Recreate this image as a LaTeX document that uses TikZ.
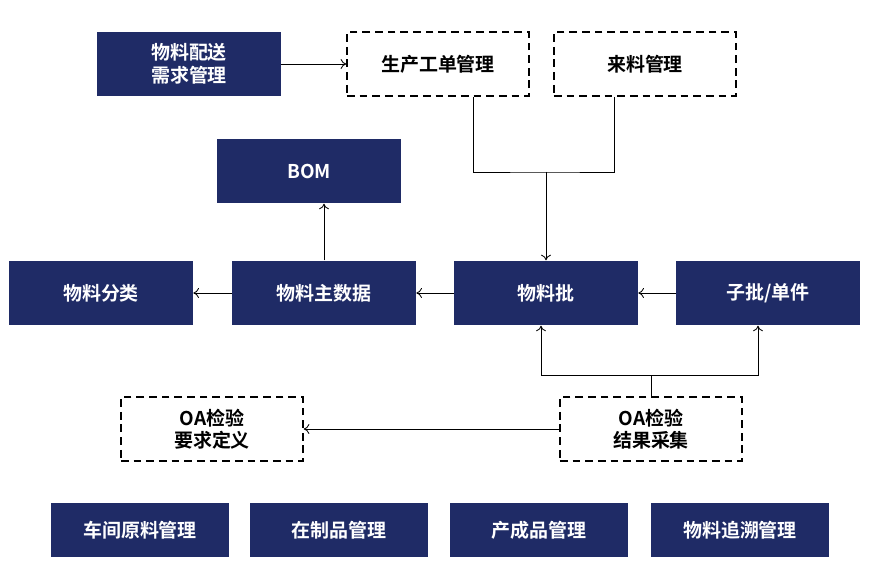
\documentclass[tikz,border=0pt]{standalone}
\usepackage{fontspec}
\setmainfont{Noto Sans CJK SC Bold}
\usetikzlibrary{arrows.meta}
\definecolor{navy}{HTML}{1F2B66}

\tikzset{
	solidbox/.style={fill=navy, text=white, minimum width=4.6cm, minimum height=1.62cm, align=center, inner sep=0pt, font=\fontsize{13.5}{16}\selectfont},
	dashbox/.style={draw, line width=1pt, dash pattern=on 5.5pt off 3.5pt, minimum width=4.55cm, minimum height=1.6cm, align=center, inner sep=0pt, font=\fontsize{13.5}{16}\selectfont},
	lowbox/.style={solidbox, minimum width=4.45cm, minimum height=1.35cm},
	link/.style={draw, line width=0.6pt},
	arr/.style={link, -{To[length=4pt, width=7pt]}},
}

\begin{document}
\begin{tikzpicture}[x=0.025cm, y=-0.025cm]
				\useasboundingbox (0,0) rectangle (877,569);
				\node[solidbox] (demand) at (189,64) {物料配送\\需求管理};
				\node[dashbox] (order) at (438,64) {生产工单管理};
				\node[dashbox] (incoming) at (645,64) {来料管理};
				\node[solidbox] (bom) at (309,171) {BOM};
				\node[solidbox] (category) at (101,293) {物料分类};
				\node[solidbox] (master) at (324,293) {物料主数据};
				\node[solidbox] (batch) at (546,293) {物料批};
				\node[solidbox] (subbatch) at (768,293) {子批/单件};
				\node[dashbox] (oadef) at (212,429) {OA检验\\要求定义};
				\node[dashbox] (oaresult) at (651,429) {OA检验\\结果采集};
				\node[lowbox] (workshop) at (140,530) {车间原料管理};
				\node[lowbox] (wip) at (339,530) {在制品管理};
				\node[lowbox] (finished) at (539,530) {产成品管理};
				\node[lowbox] (trace) at (740,530) {物料追溯管理};

				\coordinate (join) at (546,172);
				\coordinate (split) at (651,375);
				\draw[arr] (demand.east) -- (order.west);
				\draw[link] (order.south -| 473,0) |- (join) -| (incoming.south -| 614,0);
				\draw[arr] (join) -- (batch.north);
				\draw[arr] (master.north) -- (master.north |- bom.south);
				\draw[arr] (master.west) -- (category.east);
				\draw[arr] (batch.west) -- (master.east);
				\draw[arr] (subbatch.west) -- (batch.east);
				\draw[link] (oaresult.north) -- (split);
				\draw[arr] (split) -| (batch.south -| 541,0);
				\draw[arr] (split) -| (subbatch.south -| 758,0);
				\draw[arr] (oaresult.west) -- (oadef.east);
			\end{tikzpicture}
\end{document}
